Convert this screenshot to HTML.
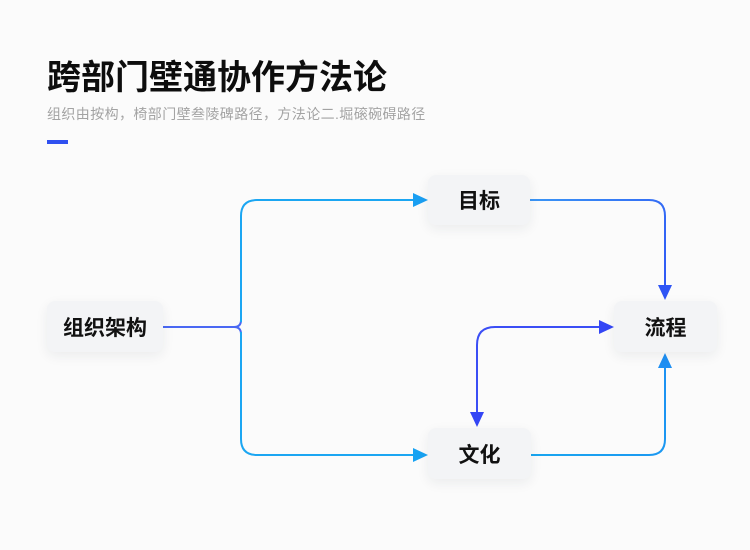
<!DOCTYPE html>
<html><head><meta charset="utf-8"><style>
html,body{margin:0;padding:0;}
body{width:750px;height:550px;background:#fbfbfb;position:relative;overflow:hidden;font-family:"Liberation Sans","Noto Sans CJK SC",sans-serif;}
.node{position:absolute;background:#f3f4f6;border-radius:8px;box-shadow:0 4px 12px rgba(30,40,60,0.07);display:flex;align-items:center;justify-content:center;font-size:21px;font-weight:bold;color:#111;font-family:"Liberation Sans","Noto Sans CJK SC",sans-serif;}
</style></head><body>
<svg width="750" height="550" style="position:absolute;left:0;top:0">
<defs>
<linearGradient id="gTop" gradientUnits="userSpaceOnUse" x1="530" y1="200" x2="665" y2="300"><stop offset="0" stop-color="#3a95f5"/><stop offset="1" stop-color="#2f55f5"/></linearGradient>
<linearGradient id="gBot" gradientUnits="userSpaceOnUse" x1="530" y1="455" x2="665" y2="355"><stop offset="0" stop-color="#19a6f0"/><stop offset="1" stop-color="#1c90f2"/></linearGradient>
</defs>
<text x="47" y="89" font-size="34" font-weight="bold" fill="#0d0d0d" font-family="Liberation Sans, Noto Sans CJK SC, sans-serif">跨部门壁通协作方法论</text>
<text x="47" y="119" font-size="14" fill="#a3a3a3" letter-spacing="0.4" font-family="Liberation Sans, Noto Sans CJK SC, sans-serif">组织由按构，椅部门壁叁陵碑路径，方法论二.堀磙碗碍路径</text>
<rect x="47" y="140" width="21" height="4" fill="#2f50f0"/>

<!-- left split -->
<path d="M163 327 H234 Q241 327 241 320" fill="none" stroke="#4a68f3" stroke-width="2"/>
<path d="M234 327 Q241 327 241 334" fill="none" stroke="#4a68f3" stroke-width="2"/>
<path d="M241 322 V216 Q241 200 257 200 H415" fill="none" stroke="#1ba6f2" stroke-width="2"/>
<path d="M241 332 V439 Q241 455 257 455 H415" fill="none" stroke="#1ba6f2" stroke-width="2"/>
<polygon points="428,200 413,193 413,207" fill="#1a9ff2"/>
<polygon points="428,455 413,448 413,462" fill="#17a2f2"/>

<!-- 目标 -> 流程 -->
<path d="M530 200 H649 Q665 200 665 216 V287" fill="none" stroke="url(#gTop)" stroke-width="2"/>
<polygon points="665,300 658,285 672,285" fill="#2f55f5"/>

<!-- 文化 -> 流程 -->
<path d="M530 455 H649 Q665 455 665 439 V367" fill="none" stroke="url(#gBot)" stroke-width="2"/>
<polygon points="665,353 658,368 672,368" fill="#1e8ff3"/>

<!-- bidirectional -->
<path d="M601 327 H495 Q477 327 477 345 V414" fill="none" stroke="#3b4ef5" stroke-width="2"/>
<polygon points="614,327 599,320 599,334" fill="#3446f5"/>
<polygon points="477,427 470,412 484,412" fill="#3446f5"/>
</svg>
<div class="node" style="left:47px;top:301px;width:116px;height:51px;">组织架构</div>
<div class="node" style="left:428px;top:175px;width:102px;height:50px;">目标</div>
<div class="node" style="left:614px;top:301px;width:103px;height:51px;">流程</div>
<div class="node" style="left:428px;top:428px;width:103px;height:51px;">文化</div>
</body></html>
